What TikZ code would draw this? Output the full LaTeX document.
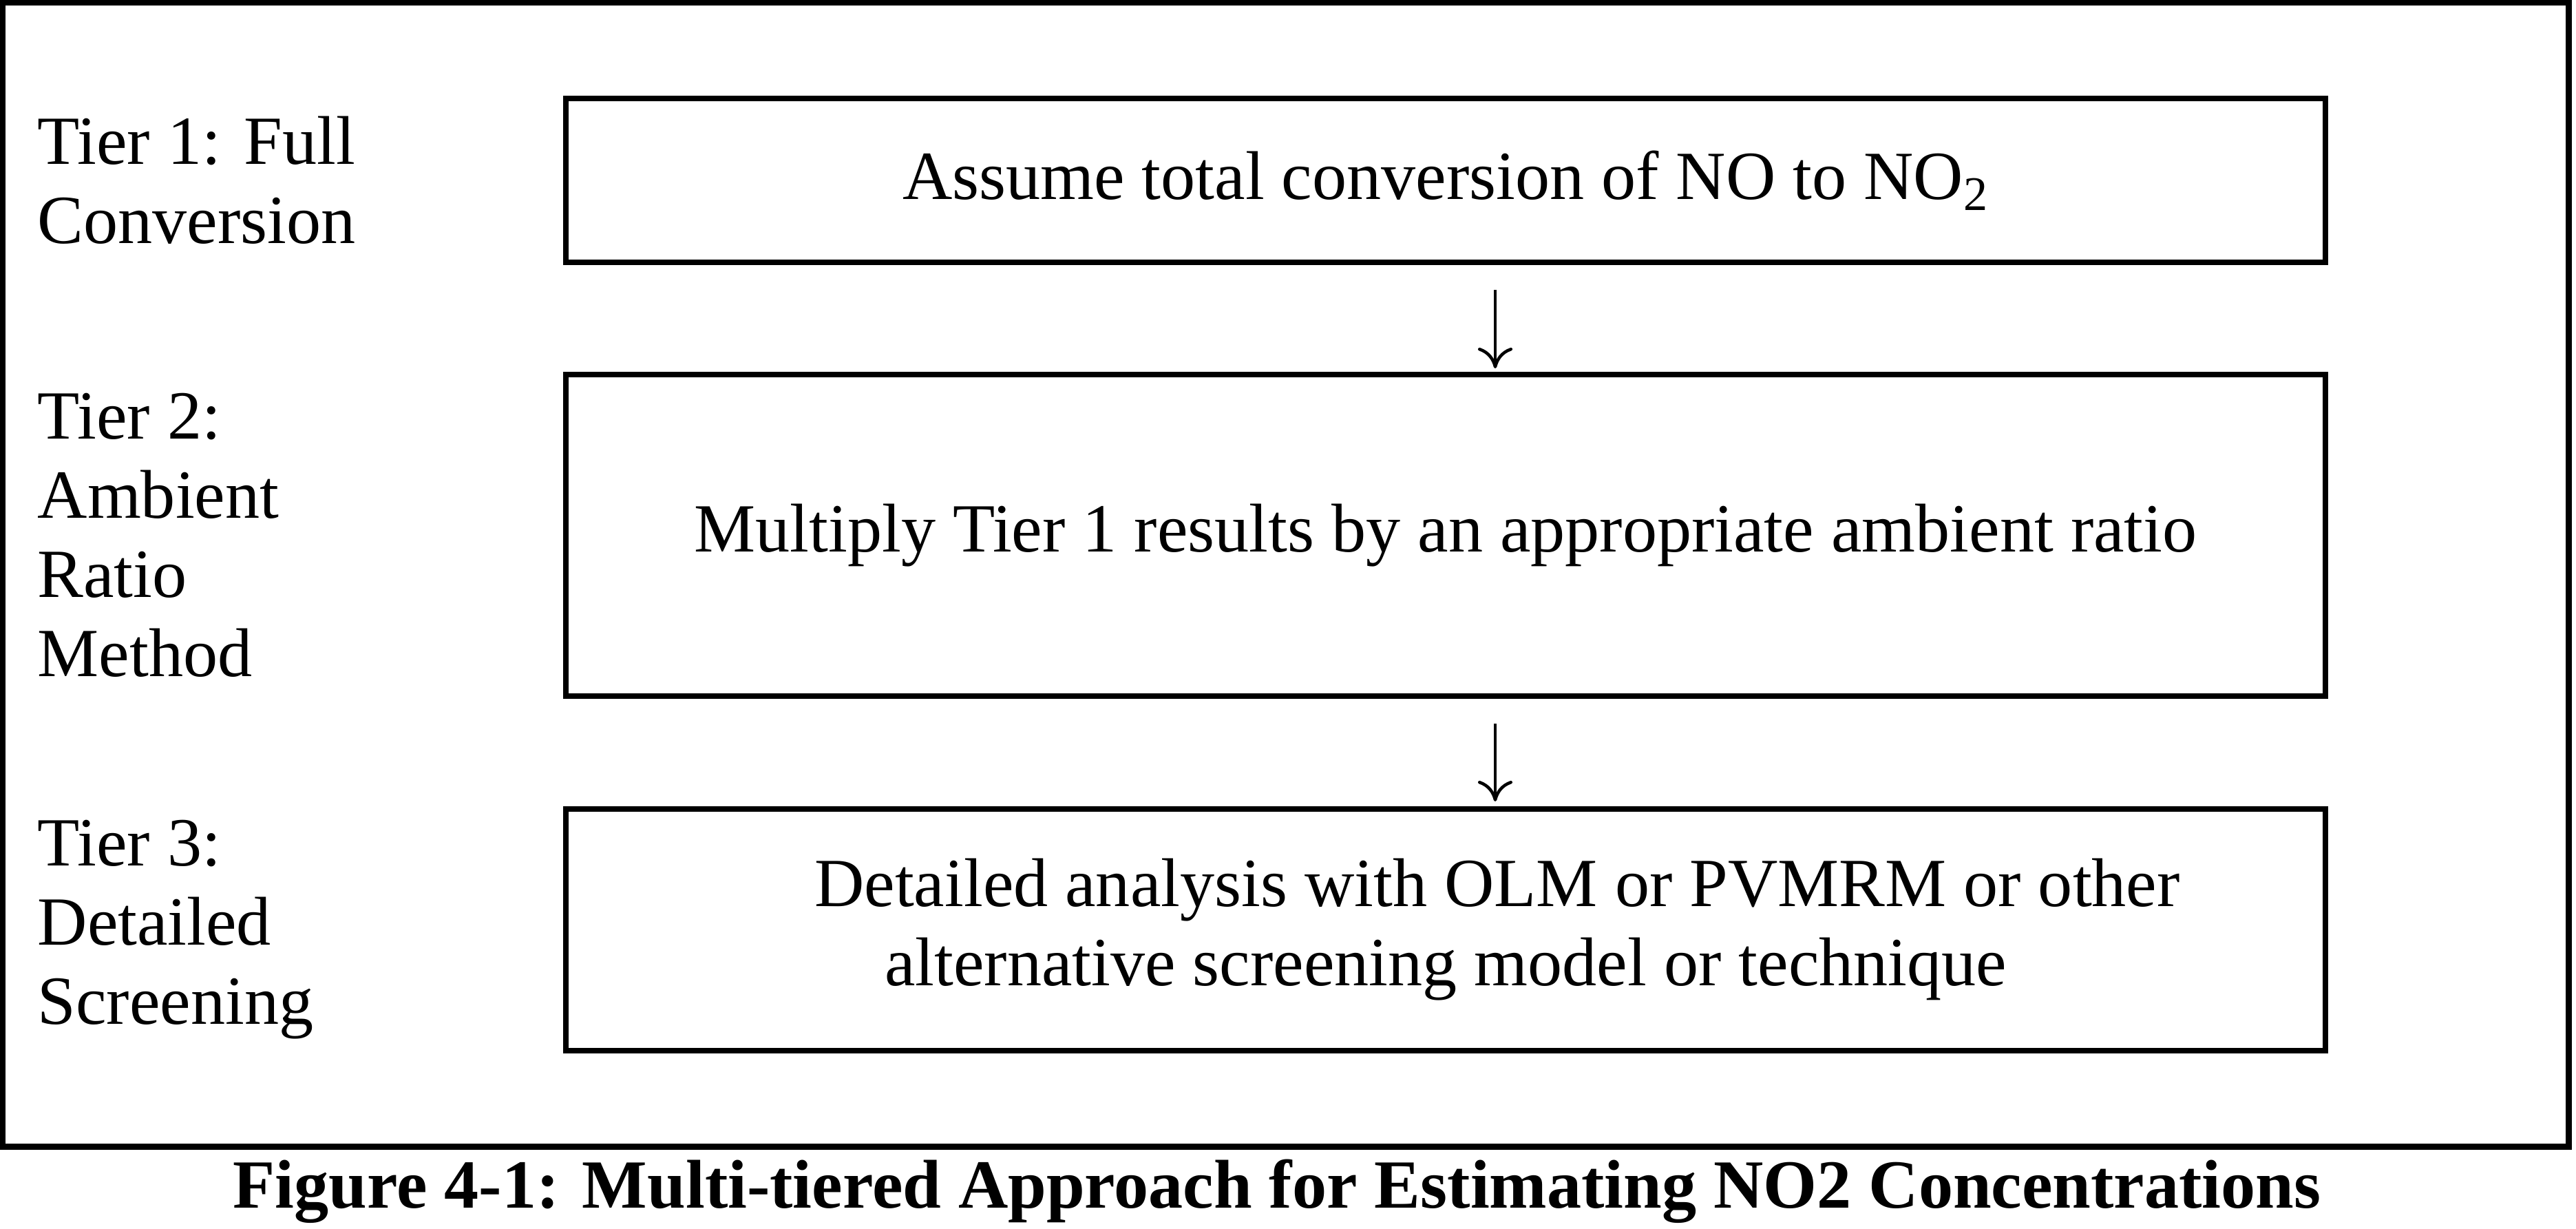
\documentclass[tikz,border=0pt]{standalone}
\usepackage{fontspec}
\setmainfont{Liberation Serif}
\usetikzlibrary{arrows.meta}

\begin{document}
\begin{tikzpicture}[
	tierbox/.style = {draw,
		line width = 0.08cm,
		minimum width = 25.56cm,
		align = center,
		font = \fontsize{28.5}{32.7}\selectfont},
	tierlabel/.style = {anchor = west,
		inner sep = 0pt,
		align = left,
		font = \fontsize{28.5}{32.7}\selectfont},
	flow/.style = {line width = 0.045cm,
		-{To[length=0.3cm,width=0.5cm]}}]

	\useasboundingbox (0,0) rectangle (37.42,17.85);
	\draw[line width = 0.09cm] (0.04,1.19) rectangle (37.315,17.81);

	\node[tierbox, minimum height = 2.38cm] (T1) at (21.00,15.23)
		{Assume total conversion of NO to NO\textsubscript{2}};
	\node[tierbox, minimum height = 4.67cm] (T2) at (21.00,10.075)
		{Multiply Tier 1 results by an appropriate ambient ratio};
	\node[tierbox, minimum height = 3.51cm] (T3) at (21.00,4.345)
		{\hspace*{1.5cm}Detailed analysis with OLM or PVMRM or other\\
		 alternative screening model or technique};

	\coordinate (lx) at (0.54,0);
	\node[tierlabel] (L1) at (lx |- T1) {Tier 1: Full\\Conversion};
	\node[tierlabel] (L2) at (lx |- T2) {Tier 2:\\Ambient\\Ratio\\Method};
	\node[tierlabel] (L3) at (lx |- T3) {Tier 3:\\Detailed\\Screening};

	\draw[flow, shorten <= 0.36cm, shorten >= 0.05cm]
		([xshift=0.72cm]T1.south) -- ([xshift=0.72cm]T2.north);
	\draw[flow, shorten <= 0.36cm, shorten >= 0.07cm]
		([xshift=0.72cm]T2.south) -- ([xshift=0.72cm]T3.north);

	\node[anchor = base, font = \fontsize{28.5}{32.7}\selectfont\bfseries] (cap) at (18.55,0.30)
		{Figure 4-1: Multi-tiered Approach for Estimating NO2 Concentrations};

\end{tikzpicture}
\end{document}
